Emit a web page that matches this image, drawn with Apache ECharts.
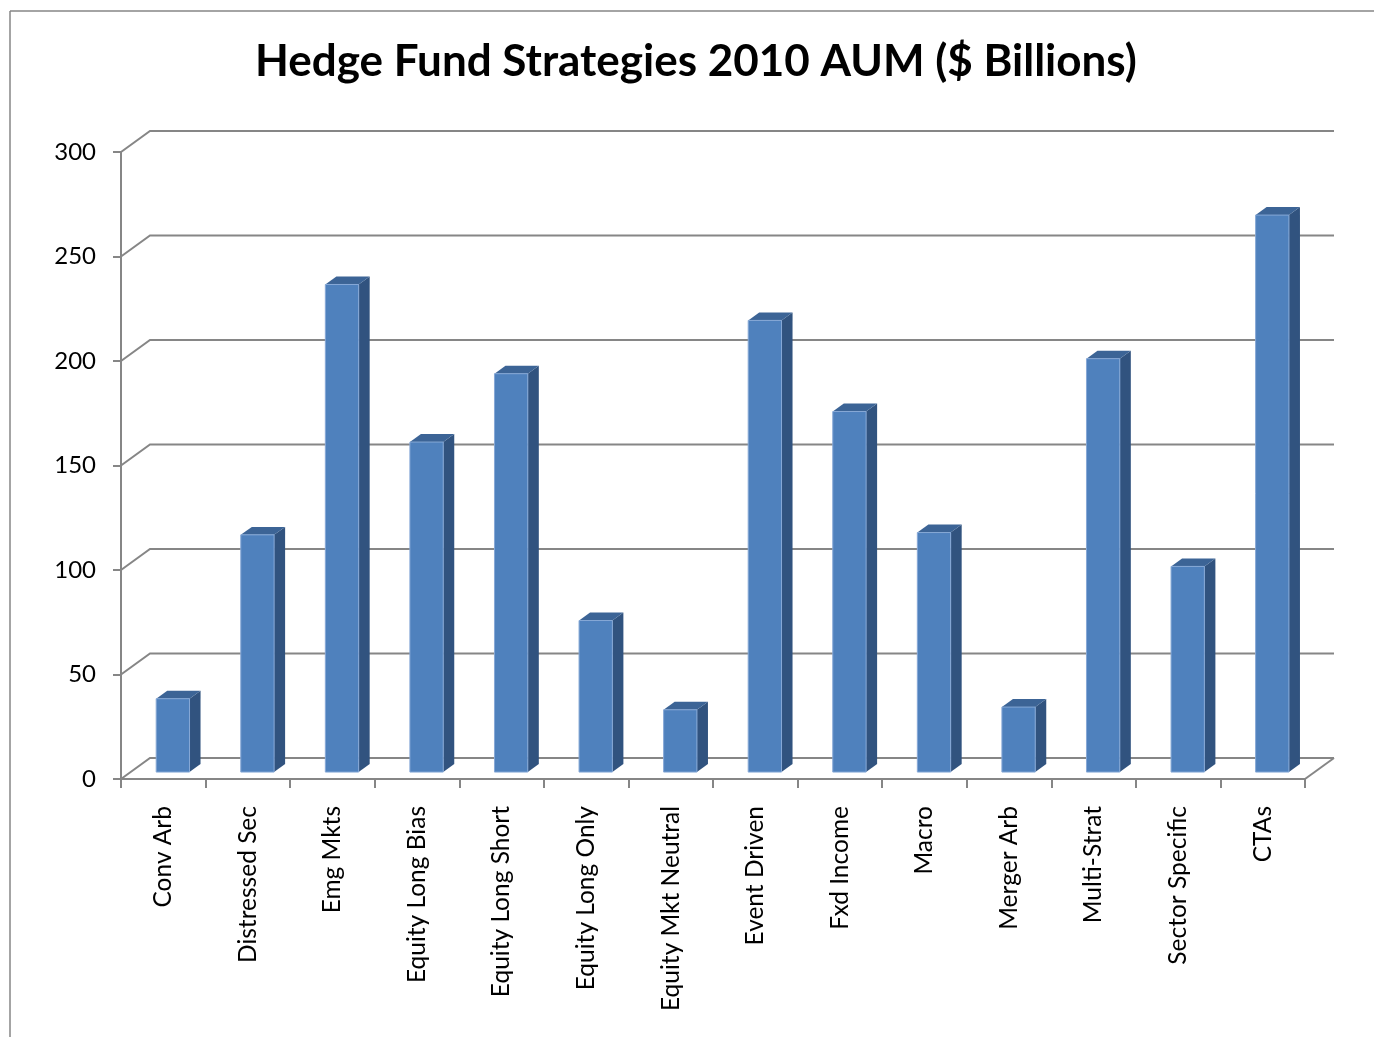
<!DOCTYPE html>
<html><head><meta charset="utf-8">
<script src="https://cdn.jsdelivr.net/npm/echarts/dist/echarts.min.js"></script>
<style>html,body{margin:0;padding:0;background:#fff}#c{width:1374px;height:1037px}</style>
</head><body><div id="c"></div>
<script>
const categories = ['Conv Arb','Distressed Sec','Emg Mkts','Equity Long Bias','Equity Long Short','Equity Long Only','Equity Mkt Neutral','Event Driven','Fxd Income','Macro','Merger Arb','Multi-Strat','Sector Specific','CTAs'];
const aum = [35.1,113.5,233.3,157.9,190.6,72.5,29.8,216.1,172.5,114.6,31.1,197.8,98.4,266.5];
const yTicks = [0,50,100,150,200,250,300];
const titleText = 'Hedge Fund Strategies 2010 AUM ($ Billions)';

// 3D look (style only)
const DX = 29, DY = -21;          // depth of the plot box
const BAR_POS = 0.33, BAR_DEPTH = 0.38, BAR_W = 0.394;
const FRONT = '#4F81BD', SIDE = '#31537F', TOP = '#3C6496';
const GRID_C = '#868686';
const FONT = 'Lato';

function renderWall(params, api){
  const cs = params.coordSys;
  const v = api.value(1);
  const y = api.coord([0, v])[1];
  const children = [{
    type:'polyline',
    shape:{points:[[cs.x,y],[cs.x+DX,y+DY],[cs.x+cs.width+DX,y+DY]]},
    style:{stroke:GRID_C, lineWidth:2, fill:null}
  }];
  if (v === 0) children.push({type:'line', shape:{x1:cs.x+cs.width,y1:y,x2:cs.x+cs.width+DX,y2:y+DY}, style:{stroke:GRID_C,lineWidth:2}});
  return {type:'group', children};
}
function renderBar(params, api){
  const i = api.value(0), v = api.value(1);
  const top = api.coord([i, v]); const base = api.coord([i, 0]);
  const band = api.size([1,0])[0];
  const w = band*BAR_W;
  const ox = DX*BAR_POS, oy = DY*BAR_POS;
  const bx = DX*BAR_DEPTH, by = DY*BAR_DEPTH;
  const x0 = top[0] - w/2 + ox, x1 = x0 + w;
  const yt = top[1] + oy, yb = base[1] + oy;
  return {type:'group', children:[
    {type:'polygon', shape:{points:[[x1,yt],[x1+bx,yt+by],[x1+bx,yb+by],[x1,yb]]}, style:{fill:SIDE}},
    {type:'polygon', shape:{points:[[x0,yt],[x0+bx,yt+by],[x1+bx,yt+by],[x1,yt]]}, style:{fill:TOP}},
    {type:'rect', shape:{x:x0,y:yt,width:w,height:yb-yt}, style:{fill:FRONT, stroke:'#86A8D6', lineWidth:1}}
  ]};
}

const chart = echarts.init(document.getElementById('c'), null, {renderer:'canvas'});
chart.setOption({
  backgroundColor:'#fff',
  animation:false,
  title:{text:titleText, left:255, top:40, padding:0, textStyle:{fontFamily:FONT, fontWeight:'bold', fontSize:44, color:'#000'}},
  graphic:[
    {type:'line', shape:{x1:10,y1:11,x2:1374,y2:11}, style:{stroke:GRID_C,lineWidth:1.5}},
    {type:'line', shape:{x1:10,y1:11,x2:10,y2:1037}, style:{stroke:GRID_C,lineWidth:1.5}}
  ],
  grid:{left:121, right:69, top:152, bottom:258, containLabel:false},
  xAxis:{type:'category', data:categories, boundaryGap:true,
    axisLine:{show:true, lineStyle:{color:GRID_C, width:2}},
    axisTick:{show:true, length:9, interval:0, alignWithLabel:false, lineStyle:{color:GRID_C, width:2}},
    axisLabel:{rotate:90, interval:0, margin:27, fontFamily:FONT, fontSize:24.5, color:'#000'},
    splitLine:{show:false}},
  yAxis:{type:'value', min:0, max:300, interval:50,
    axisLine:{show:true, lineStyle:{color:GRID_C, width:2}},
    axisTick:{show:true, length:8, lineStyle:{color:GRID_C, width:2}},
    axisLabel:{margin:25, fontFamily:FONT, fontSize:24, color:'#000'},
    splitLine:{show:false}},
  series:[
    {type:'custom', name:'wall', renderItem:renderWall, data:yTicks.map(v=>[0,v]), encode:{x:0,y:1}, z:1, silent:true},
    {type:'custom', name:'AUM', renderItem:renderBar, data:aum.map((v,i)=>[i,v]), encode:{x:0,y:1}, z:3}
  ]
});
</script>
</body></html>
